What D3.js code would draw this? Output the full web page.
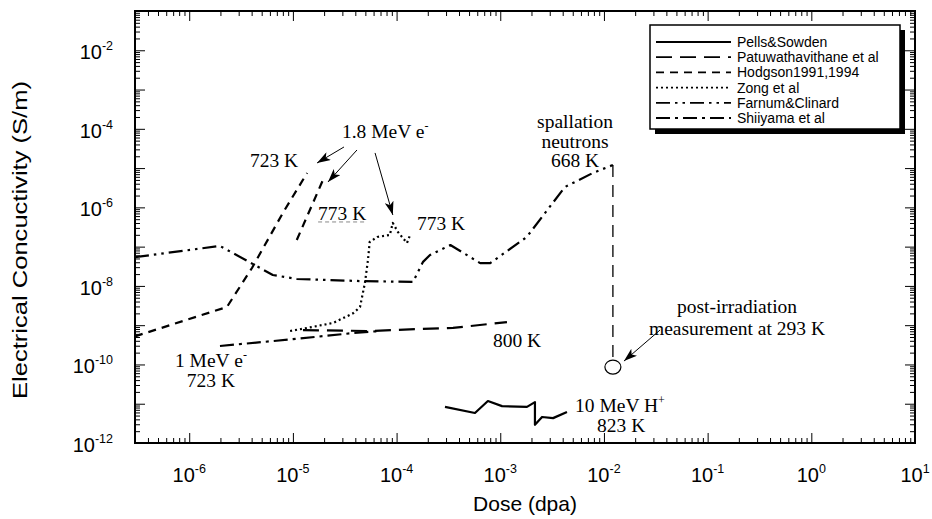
<!DOCTYPE html>
<html><head><meta charset="utf-8">
<script src="https://cdn.jsdelivr.net/npm/d3@7"></script>
<style>body{margin:0;background:#fff}svg{display:block}</style>
</head><body>
<svg id="chart" width="932" height="519"></svg>
<script>
// ---------- data ----------
const xTickExps = [-6, -5, -4, -3, -2, -1, 0, 1];
const yLabelExps = [-2, -4, -6, -8, -10, -12];
const legendNames = ["Pells&Sowden", "Patuwathavithane et al", "Hodgson1991,1994", "Zong et al", "Farnum&Clinard", "Shiiyama et al"];

const pellsDose = [2.93e-4, 5.7e-4, 7.6e-4, 1.04e-3, 1.81e-3, 2.16e-3, 2.16e-3, 2.53e-3, 3.23e-3, 4.4e-3];
const pellsCond = [8.3e-12, 5.8e-12, 1.17e-11, 8.7e-12, 8.3e-12, 1.1e-11, 2.9e-12, 4.6e-12, 4.3e-12, 6.2e-12];

const patuDose = [1.25e-5, 5.5e-5, 1.68e-4, 3.5e-4, 1.16e-3];
const patuCond = [7.5e-10, 7.1e-10, 8.0e-10, 8.5e-10, 1.2e-9];

const hodg723Dose = [3.0e-7, 2.31e-6, 4.03e-6, 8.0e-6, 1.37e-5];
const hodg723Cond = [5.2e-10, 2.9e-9, 2.86e-8, 7.2e-7, 7.5e-6];
const hodg773Dose = [1.09e-5, 1.95e-5];
const hodg773Cond = [1.48e-7, 4.98e-6];

const zongDose = [9.4e-6, 1.37e-5, 2.44e-5, 3.8e-5, 4.44e-5, 4.95e-5, 5.3e-5, 5.5e-5, 6.5e-5, 8.6e-5, 9.2e-5, 1.03e-4, 1.26e-4, 1.35e-4];
const zongCond = [7.1e-10, 8.5e-10, 1.14e-9, 2.0e-9, 2.9e-9, 1.19e-8, 4.6e-8, 1.31e-7, 1.76e-7, 1.98e-7, 4.0e-7, 2.36e-7, 1.24e-7, 1.98e-7];

const farnumDose = [3.0e-7, 1.98e-6, 6.4e-6, 1.09e-5, 4.4e-5, 1.44e-4, 1.8e-4, 2.1e-4, 3.3e-4, 6.4e-4, 8.0e-4, 1.8e-3, 4.2e-3, 7.8e-3, 1.22e-2];
const farnumCond = [5.4e-8, 1.04e-7, 1.9e-8, 1.5e-8, 1.33e-8, 1.26e-8, 4.1e-8, 6.1e-8, 1.1e-7, 3.8e-8, 3.8e-8, 1.76e-7, 3.3e-6, 7.5e-6, 1.2e-5];
const postDose = [1.22e-2, 1.22e-2];
const postCond = [1.2e-5, 1.0e-10];
const postPointDose = 1.22e-2, postPointCond = 8.6e-11;

const shiiDose = [1.98e-6, 1.0e-5, 3.8e-5, 6.9e-5];
const shiiCond = [2.95e-10, 4.4e-10, 6.3e-10, 7.1e-10];

// annotation texts anchored in data units
const notes = [
  {t: "1.8 MeV e", sup: "-", x: 2.97e-5, y: 5.85e-5, a: "start"},
  {t: "723 K", x: 3.85e-6, y: 1.07e-5, a: "start"},
  {t: "773 K", x: 1.75e-5, y: 4.78e-7, a: "start", under: true},
  {t: "773 K", x: 1.57e-4, y: 2.65e-7, a: "start"},
  {t: "spallation", x: 5.26e-3, y: 1.05e-4, a: "middle"},
  {t: "neutrons", x: 5.26e-3, y: 3.25e-5, a: "middle"},
  {t: "668 K", x: 5.26e-3, y: 1.07e-5, a: "middle"},
  {t: "post-irradiation", x: 0.192, y: 2.04e-9, a: "middle"},
  {t: "measurement at 293 K", x: 0.192, y: 5.6e-10, a: "middle"},
  {t: "800 K", x: 8.5e-4, y: 2.79e-10, a: "start"},
  {t: "1 MeV e", sup: "-", x: 1.62e-6, y: 8.6e-11, a: "middle"},
  {t: "723 K", x: 1.62e-6, y: 2.67e-11, a: "middle"},
  {t: "10 MeV H", sup: "+", x: 5.26e-3, y: 6.15e-12, a: "start"},
  {t: "823 K", x: 8.57e-3, y: 1.9e-12, a: "start"}
];
const arrows = [
  {x1: 3.11e-5, y1: 3.45e-5, x2: 1.71e-5, y2: 1.35e-5},
  {x1: 4.15e-5, y1: 2.89e-5, x2: 2.18e-5, y2: 4.43e-6},
  {x1: 6.2e-5, y1: 2.43e-5, x2: 9.2e-5, y2: 6.4e-7},
  {x1: 0.0348, y1: 7.55e-10, x2: 0.0156, y2: 1.22e-10}
];

// ---------- layout ----------
const M = {left: 135, right: 915, top: 11, bottom: 443};
const svg = d3.select("#chart");
const x = d3.scaleLog().domain([3e-7, 10]).range([M.left, M.right]);
const y = d3.scaleLog().domain([1e-12, 1e-1]).range([M.bottom, M.top]);

const serif = "'Liberation Serif','Times New Roman',serif";
const sans = "'Liberation Sans',Arial,Helvetica,sans-serif";

const xMajors = d3.range(-6, 2).map(e => Math.pow(10, e));
const xMinors = [];
for (let e = -7; e <= 0; e++) for (let k = 2; k <= 9; k++) { const v = k * Math.pow(10, e); if (v >= 3e-7 && v <= 10) xMinors.push(v); }
const yMajors = d3.range(-12, 0).map(e => Math.pow(10, e));
const yMinors = [];
for (let e = -12; e <= -2; e++) for (let k = 2; k <= 9; k++) yMinors.push(k * Math.pow(10, e));

function axisG(gen, tr) {
  const g = svg.append("g").attr("transform", tr).call(gen);
  g.select(".domain").remove();
  g.selectAll("line").attr("stroke", "#000").attr("stroke-width", 1);
  return g;
}
axisG(d3.axisBottom(x).tickValues(xMajors).tickSize(-10).tickFormat(""), `translate(0,${M.bottom})`);
axisG(d3.axisBottom(x).tickValues(xMinors).tickSize(-5).tickFormat(""), `translate(0,${M.bottom})`);
axisG(d3.axisTop(x).tickValues(xMajors).tickSize(-10).tickFormat(""), `translate(0,${M.top})`);
axisG(d3.axisTop(x).tickValues(xMinors).tickSize(-5).tickFormat(""), `translate(0,${M.top})`);
axisG(d3.axisLeft(y).tickValues(yMajors).tickSize(-10).tickFormat(""), `translate(${M.left},0)`);
axisG(d3.axisLeft(y).tickValues(yMinors).tickSize(-5).tickFormat(""), `translate(${M.left},0)`);
axisG(d3.axisRight(y).tickValues(yMajors).tickSize(-10).tickFormat(""), `translate(${M.right},0)`);
axisG(d3.axisRight(y).tickValues(yMinors).tickSize(-5).tickFormat(""), `translate(${M.right},0)`);

svg.append("rect").attr("x", M.left).attr("y", M.top)
  .attr("width", M.right - M.left).attr("height", M.bottom - M.top)
  .attr("fill", "none").attr("stroke", "#000").attr("stroke-width", 2);

// tick labels
xTickExps.forEach(e => {
  const t = svg.append("text").attr("x", x(Math.pow(10, e))).attr("y", 482)
    .attr("text-anchor", "middle").attr("font-family", sans).attr("font-size", 20).attr("fill", "#000");
  t.append("tspan").text("10");
  t.append("tspan").attr("dy", -9).attr("font-size", 12.5).text(e);
});
yLabelExps.forEach(e => {
  const t = svg.append("text").attr("x", 113).attr("y", y(Math.pow(10, e)) + 9)
    .attr("text-anchor", "end").attr("font-family", sans).attr("font-size", 20).attr("fill", "#000");
  t.append("tspan").text("10");
  t.append("tspan").attr("dy", -9).attr("font-size", 12.5).text(e);
});

// axis titles
svg.append("text").attr("x", (M.left + M.right) / 2).attr("y", 511).attr("text-anchor", "middle")
  .attr("font-family", sans).attr("font-size", 21).text("Dose (dpa)");
svg.append("text").attr("transform", "translate(27,240) rotate(-90)").attr("text-anchor", "middle")
  .attr("font-family", sans).attr("font-size", 21)
  .attr("textLength", 318).attr("lengthAdjust", "spacingAndGlyphs")
  .text("Electrical Concuctivity (S/m)");

// series
const plot = svg.append("g");
const line = d3.line().x(d => x(d[0])).y(d => y(d[1]));
function series(xs, ys, dash, w) {
  plot.append("path").datum(d3.zip(xs, ys)).attr("d", line)
    .attr("fill", "none").attr("stroke", "#000").attr("stroke-width", w || 2.2)
    .attr("stroke-dasharray", dash).attr("stroke-linejoin", "round");
}
const DASH = {
  pells: null,
  patu: "16,8",
  hodg: "8,6",
  zong: "2,3",
  farnum: "14,5,2.5,5,2.5,5",
  shii: "14,5,3,5"
};
series(pellsDose, pellsCond, DASH.pells);
series(patuDose, patuCond, DASH.patu);
series(hodg723Dose, hodg723Cond, DASH.hodg);
series(hodg773Dose, hodg773Cond, DASH.hodg);
series(zongDose, zongCond, DASH.zong);
series(farnumDose, farnumCond, DASH.farnum);
series(postDose, postCond, "12,8", 1.3);
series(shiiDose, shiiCond, DASH.shii);
plot.append("ellipse").attr("cx", x(postPointDose)).attr("cy", y(postPointCond)).attr("rx", 8).attr("ry", 7)
  .attr("fill", "#fff").attr("stroke", "#000").attr("stroke-width", 1.2);

// annotations
notes.forEach(n => {
  const t = svg.append("text").attr("x", x(n.x)).attr("y", y(n.y)).attr("text-anchor", n.a)
    .attr("font-family", serif).attr("font-size", 19.5).attr("fill", "#000");
  t.append("tspan").text(n.t);
  if (n.sup) t.append("tspan").attr("dy", -8).attr("font-size", 12).text(n.sup);
  if (n.under) {
    const bb = t.node().getBBox();
    svg.append("line").attr("x1", bb.x).attr("x2", bb.x + bb.width)
      .attr("y1", y(n.y) + 2).attr("y2", y(n.y) + 2)
      .attr("stroke", "#888").attr("stroke-width", 1).attr("stroke-dasharray", "4,3");
  }
});
const defs = svg.append("defs");
defs.append("marker").attr("id", "ah").attr("viewBox", "0 0 12 8").attr("refX", 12).attr("refY", 4)
  .attr("markerWidth", 14).attr("markerHeight", 9).attr("markerUnits", "userSpaceOnUse").attr("orient", "auto")
  .append("path").attr("d", "M0,0 L12,4 L0,8 L3,4 Z").attr("fill", "#000");
arrows.forEach(a => {
  svg.append("line").attr("x1", x(a.x1)).attr("y1", y(a.y1)).attr("x2", x(a.x2)).attr("y2", y(a.y2))
    .attr("stroke", "#000").attr("stroke-width", 1).attr("marker-end", "url(#ah)");
});

// legend
const L = {x: 650, y: 25, w: 250, h: 104};
svg.append("rect").attr("x", L.x + 5).attr("y", L.y + 5).attr("width", L.w).attr("height", L.h).attr("fill", "#000");
svg.append("rect").attr("x", L.x).attr("y", L.y).attr("width", L.w).attr("height", L.h)
  .attr("fill", "#fff").attr("stroke", "#000").attr("stroke-width", 1.5);
const legDash = [DASH.pells, DASH.patu, DASH.hodg, DASH.zong, DASH.farnum, DASH.shii];
legendNames.forEach((nm, i) => {
  const yy = L.y + 17 + i * 15.2;
  svg.append("line").attr("x1", L.x + 6).attr("x2", 731).attr("y1", yy).attr("y2", yy)
    .attr("stroke", "#000").attr("stroke-width", 1.8).attr("stroke-dasharray", legDash[i]);
  svg.append("text").attr("x", 737).attr("y", yy + 5).attr("font-family", sans).attr("font-size", 14)
    .attr("fill", "#000").text(nm);
});
</script>
</body></html>
